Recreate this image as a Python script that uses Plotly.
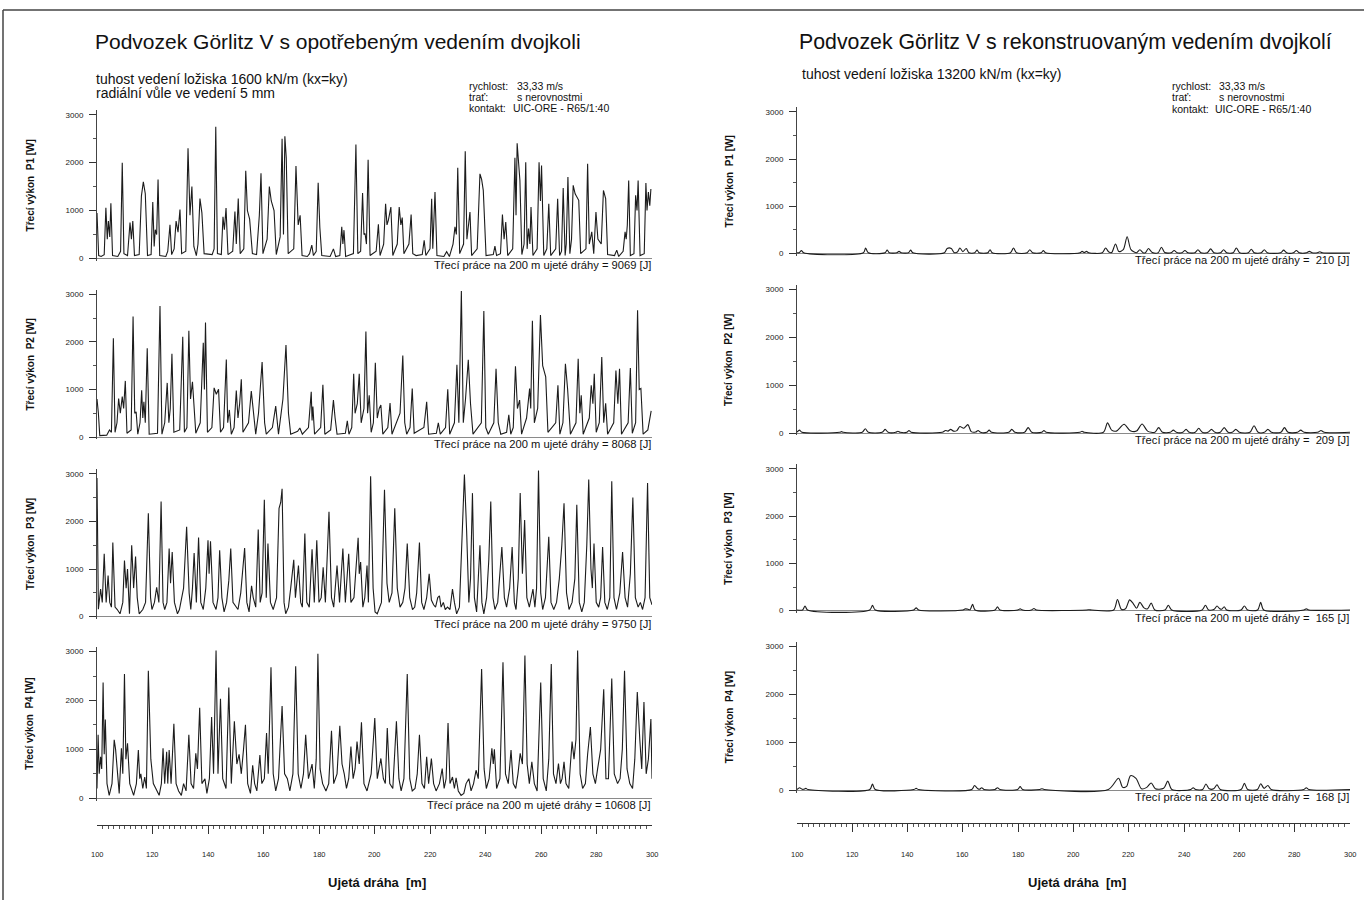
import plotly.graph_objects as go

W, H = 1364, 902
FONT = "Liberation Sans, Arial, sans-serif"

# ---------------- data ----------------
distance_ticks = [100, 120, 140, 160, 180, 200, 220, 240, 260, 280, 300]
power_ticks = [0, 1000, 2000, 3000]
wheelsets = ["P1", "P2", "P3", "P4"]
worn_work_J = [9069, 8068, 9750, 10608]
recon_work_J = [210, 209, 165, 168]

# worn guidance (left column): (distance m, friction power W)
worn_p1 = [(100.0, 950), (100.6, 60), (101.5, 40), (102.6, 80), (103.2, 1060), (103.7, 400), (104.1, 780), (104.6, 450),
           (105.0, 1150), (105.6, 60), (107.5, 40), (108.5, 150), (109.1, 2000), (109.7, 100), (111.0, 60), (111.9, 750),
           (112.4, 400), (112.9, 780), (113.5, 60), (115.2, 80), (116.0, 1300), (116.7, 1600), (117.4, 1350), (118.2, 60),
           (119.5, 80), (120.1, 1180), (120.6, 250), (121.0, 600), (121.5, 500), (122.0, 1650), (122.6, 60), (124.8, 40),
           (125.5, 150), (126.3, 700), (126.9, 80), (127.8, 200), (128.5, 780), (129.2, 550), (129.9, 1020), (130.5, 100),
           (132.0, 150), (132.8, 2300), (133.5, 900), (134.2, 1500), (134.9, 250), (135.8, 60), (136.4, 300), (137.1, 1250),
           (137.8, 950), (138.6, 100), (141.5, 80), (142.2, 200), (142.8, 2750), (143.4, 100), (144.8, 80), (145.4, 870),
           (145.9, 600), (146.5, 1050), (147.2, 80), (148.9, 150), (149.7, 980), (150.2, 300), (150.9, 1250), (151.6, 100),
           (152.9, 200), (153.6, 1830), (154.2, 1000), (155.0, 820), (156.0, 100), (157.5, 80), (158.5, 900), (159.1, 1780),
           (159.8, 100), (161.3, 400), (162.1, 1500), (162.8, 1200), (163.8, 1000), (164.6, 80), (166.0, 450), (166.7, 2500),
           (167.2, 500), (167.7, 2550), (168.2, 2100), (168.9, 100), (170.9, 200), (171.7, 1930), (172.5, 700), (173.2, 900),
           (173.9, 60), (175.8, 40), (176.6, 100), (177.4, 280), (178.0, 60), (179.0, 150), (179.7, 1580), (180.3, 650),
           (181.0, 60), (184.0, 40), (185.2, 200), (186.0, 40), (187.5, 60), (188.2, 660), (188.6, 300), (189.0, 590),
           (189.6, 40), (192.4, 100), (193.3, 2377), (194.0, 100), (195.0, 150), (195.7, 1365), (196.2, 500), (196.6, 520),
           (197.1, 300), (197.7, 2058), (198.4, 60), (200.6, 150), (201.4, 714), (202.0, 60), (203.3, 300), (204.0, 1143),
           (204.5, 700), (205.0, 800), (205.9, 1074), (206.6, 60), (208.2, 300), (208.9, 1074), (209.5, 700), (210.0, 852),
           (210.6, 100), (212.4, 300), (213.2, 915), (213.8, 100), (215.0, 60), (217.2, 80), (217.9, 380), (218.5, 60),
           (220.0, 200), (220.6, 1247), (221.0, 200), (221.8, 1386), (222.5, 60), (225.0, 40), (226.0, 140), (227.0, 40),
           (228.3, 300), (229.0, 660), (229.5, 500), (230.0, 1892), (230.7, 100), (232.1, 300), (232.7, 2238), (233.3, 400),
           (234.4, 970), (235.0, 60), (237.0, 200), (238.0, 1767), (238.6, 1650), (239.2, 1420), (240.2, 60), (242.8, 80),
           (243.4, 256), (244.0, 60), (245.4, 100), (246.1, 915), (246.7, 400), (247.3, 762), (248.0, 60), (249.8, 200),
           (250.6, 2100), (251.0, 900), (251.4, 2405), (252.4, 1628), (253.1, 80), (253.9, 300), (254.5, 2010), (255.0, 200),
           (255.5, 624), (256.0, 300), (256.4, 1074), (257.1, 60), (258.6, 200), (259.3, 2010), (259.8, 1200), (260.2, 1940),
           (261.0, 60), (262.1, 200), (262.8, 1143), (263.5, 60), (265.3, 200), (266.0, 1247), (266.7, 60), (267.4, 150),
           (268.0, 1470), (268.7, 60), (269.1, 300), (269.7, 1698), (270.4, 100), (271.0, 400), (271.6, 1525), (272.3, 1350),
           (273.6, 1213), (274.3, 100), (276.2, 200), (276.8, 1975), (277.4, 300), (278.3, 554), (279.0, 100), (279.8, 970),
           (280.5, 405), (281.7, 300), (282.5, 1420), (283.3, 1247), (284.0, 80), (286.5, 60), (287.3, 173), (288.0, 40),
           (289.6, 150), (290.3, 554), (290.7, 400), (291.1, 693), (291.6, 1628), (292.2, 60), (293.5, 100), (294.1, 1317),
           (294.6, 1000), (295.0, 1628), (295.7, 60), (297.2, 100), (297.8, 1573), (298.2, 1000), (298.7, 1386), (299.2, 1100),
           (299.6, 1450)]

worn_p2 = [(100.0, 800), (100.5, 500), (101.0, 30), (103.5, 40), (104.5, 150), (105.2, 100), (105.9, 2075), (106.5, 100),
           (107.2, 300), (107.8, 810), (108.4, 500), (109.1, 850), (109.6, 600), (110.2, 1180), (110.8, 80), (112.3, 150),
           (113.0, 2533), (113.6, 500), (114.1, 530), (114.7, 60), (115.5, 300), (116.1, 985), (116.5, 400), (116.9, 740),
           (117.4, 300), (118.1, 1867), (118.8, 60), (121.8, 80), (122.7, 2755), (123.4, 60), (124.4, 300), (125.3, 1138),
           (125.9, 300), (126.4, 600), (127.0, 1750), (127.7, 100), (129.8, 150), (130.9, 2110), (131.5, 100), (132.4, 200),
           (133.1, 2235), (133.7, 800), (134.4, 1160), (135.0, 600), (135.6, 80), (137.2, 300), (138.3, 1980), (138.7, 1000),
           (139.1, 2408), (139.8, 100), (141.4, 200), (142.2, 1034), (143.0, 900), (143.8, 1006), (144.5, 100), (145.6, 200),
           (146.6, 1630), (147.1, 300), (147.7, 570), (148.4, 60), (149.4, 200), (150.2, 980), (150.8, 400), (151.4, 700),
           (152.0, 1215), (152.6, 100), (154.6, 300), (155.6, 965), (156.6, 300), (157.2, 60), (158.2, 500), (158.9, 1020),
           (159.5, 1575), (160.4, 300), (161.0, 60), (163.2, 200), (164.4, 650), (165.4, 60), (167.0, 800), (168.1, 1936),
           (169.0, 500), (169.8, 60), (172.3, 120), (173.1, 190), (174.0, 60), (176.2, 200), (177.2, 950), (177.5, 350),
           (177.8, 640), (178.4, 60), (180.6, 200), (181.4, 1100), (182.1, 60), (184.2, 150), (185.2, 777), (185.8, 400),
           (186.5, 60), (189.5, 80), (190.2, 340), (190.8, 60), (191.8, 200), (192.5, 1330), (193.0, 500), (193.8, 700),
           (194.5, 1330), (195.2, 300), (196.2, 600), (196.9, 2220), (197.5, 500), (198.1, 880), (198.8, 100), (199.6, 300),
           (200.3, 1560), (201.0, 400), (201.7, 600), (202.3, 673), (203.0, 60), (204.8, 200), (205.6, 715), (206.3, 60),
           (209.2, 500), (210.2, 1714), (210.9, 300), (211.6, 60), (212.8, 200), (213.6, 1020), (214.3, 80), (217.8, 200),
           (218.8, 740), (219.5, 60), (222.3, 80), (223.0, 300), (223.7, 60), (225.6, 200), (226.4, 1006), (227.1, 60),
           (228.8, 300), (229.7, 1520), (230.4, 300), (231.3, 3067), (232.0, 300), (232.8, 800), (233.8, 1624), (234.6, 700),
           (235.5, 60), (238.5, 300), (239.4, 2650), (240.1, 200), (241.0, 60), (243.0, 300), (243.8, 1436), (244.6, 300),
           (245.5, 60), (247.6, 100), (248.4, 465), (249.1, 60), (250.0, 200), (250.8, 1490), (251.5, 600), (252.3, 777),
           (253.0, 60), (254.8, 400), (255.9, 1020), (256.3, 600), (256.9, 2443), (257.6, 300), (258.8, 600), (259.8, 2567),
           (260.6, 1500), (261.7, 1263), (262.5, 100), (265.3, 300), (266.1, 1090), (266.8, 60), (267.9, 300), (268.8, 1540),
           (269.6, 1000), (270.6, 60), (272.6, 300), (273.4, 1645), (274.0, 500), (274.5, 880), (275.2, 60), (277.4, 400),
           (278.1, 1090), (278.7, 700), (279.2, 1330), (279.9, 100), (281.0, 300), (281.9, 1680), (282.6, 300), (283.3, 708),
           (284.0, 60), (286.2, 300), (287.0, 1400), (287.7, 700), (288.3, 1436), (289.0, 60), (291.4, 300), (292.2, 1450),
           (292.9, 80), (294.1, 300), (294.8, 2665), (295.4, 1000), (296.0, 1020), (296.8, 60), (298.5, 150), (299.7, 550)]

worn_p3 = [(100.0, 2915), (100.5, 155), (101.3, 580), (101.9, 300), (102.6, 1323), (103.3, 300), (104.0, 863), (104.6, 300),
           (105.2, 200), (105.7, 1556), (106.5, 200), (107.3, 150), (108.3, 60), (109.3, 300), (109.9, 1181), (110.5, 600),
           (111.0, 1000), (111.7, 60), (112.5, 1500), (113.2, 600), (113.9, 1266), (114.5, 400), (115.2, 60), (116.5, 150),
           (117.5, 300), (118.5, 2172), (119.3, 400), (119.8, 150), (120.7, 300), (121.5, 615), (122.3, 300), (123.1, 2420),
           (123.8, 300), (124.4, 150), (125.2, 300), (126.0, 1430), (126.5, 700), (127.1, 1358), (127.9, 300), (129.0, 60),
           (129.7, 150), (131.2, 600), (132.3, 1889), (133.2, 500), (133.8, 150), (134.4, 600), (135.0, 1337), (135.8, 300),
           (136.6, 1663), (137.4, 300), (138.3, 150), (139.2, 600), (140.0, 1606), (140.4, 900), (140.9, 1585), (141.8, 300),
           (142.9, 150), (143.6, 400), (144.2, 1394), (145.0, 400), (145.8, 100), (146.7, 300), (147.5, 757), (148.2, 1430),
           (149.0, 300), (150.8, 150), (151.8, 500), (153.2, 1443), (154.0, 300), (154.8, 100), (155.7, 650), (156.3, 400),
           (157.2, 200), (158.1, 1832), (158.8, 300), (159.5, 500), (160.3, 2455), (161.0, 400), (161.6, 1535), (162.5, 300),
           (163.5, 150), (164.7, 400), (165.6, 2278), (166.2, 2400), (166.7, 2689), (167.4, 300), (168.0, 60), (169.0, 200),
           (169.8, 600), (170.9, 1196), (171.5, 400), (172.6, 1075), (173.4, 300), (174.0, 200), (174.9, 1748), (175.6, 300),
           (176.5, 200), (177.5, 1415), (178.3, 300), (179.2, 1606), (180.0, 300), (180.8, 400), (181.5, 1040), (182.3, 300),
           (183.6, 2207), (184.5, 400), (185.3, 200), (186.5, 1075), (187.4, 300), (188.6, 1430), (189.5, 300), (190.7, 1323),
           (191.5, 300), (192.6, 400), (194.1, 1656), (194.5, 900), (195.0, 1146), (195.8, 200), (196.5, 400), (197.3, 1075),
           (197.8, 300), (198.6, 2950), (199.5, 600), (200.2, 100), (201.0, 60), (202.5, 300), (203.6, 2667), (204.5, 700),
           (205.3, 300), (206.3, 500), (207.3, 2278), (208.2, 600), (209.2, 200), (210.2, 300), (211.0, 600), (211.8, 1535),
           (212.7, 400), (213.7, 150), (214.5, 200), (215.2, 500), (216.2, 1556), (217.0, 300), (217.8, 150), (218.8, 400),
           (219.7, 899), (220.5, 350), (221.3, 250), (222.0, 200), (222.8, 400), (223.4, 439), (224.0, 200), (224.8, 300),
           (225.5, 150), (226.3, 200), (227.2, 150), (228.1, 580), (228.8, 300), (229.6, 60), (230.6, 200), (231.4, 1500),
           (232.4, 2985), (233.2, 1800), (234.0, 300), (234.6, 800), (235.3, 2596), (236.0, 400), (236.8, 100), (237.4, 800),
           (238.0, 1500), (238.7, 300), (239.4, 60), (240.4, 400), (241.2, 1200), (241.9, 2420), (242.7, 400), (243.4, 150),
           (244.4, 300), (245.9, 1465), (246.8, 400), (247.6, 200), (248.7, 600), (249.6, 1465), (250.4, 300), (251.0, 150),
           (251.8, 800), (252.5, 2596), (253.3, 900), (254.1, 2031), (254.9, 400), (255.8, 200), (257.1, 580), (257.8, 200),
           (258.4, 600), (259.1, 3070), (259.9, 500), (260.6, 150), (261.6, 400), (262.8, 1677), (263.6, 300), (264.6, 150),
           (265.6, 300), (266.6, 800), (267.5, 1500), (268.3, 2384), (269.2, 500), (270.1, 150), (271.2, 300), (272.2, 800),
           (272.9, 2349), (273.8, 300), (274.7, 100), (275.6, 300), (276.5, 1500), (277.2, 2880), (278.0, 1000), (278.5, 600),
           (279.1, 1535), (279.9, 300), (280.8, 200), (281.5, 400), (282.2, 1465), (283.0, 300), (283.9, 150), (284.8, 400),
           (285.5, 2844), (286.3, 400), (287.2, 150), (288.4, 500), (289.4, 1358), (290.3, 400), (291.2, 200), (292.2, 900),
           (293.1, 2505), (294.0, 400), (295.0, 200), (295.8, 300), (296.6, 150), (297.5, 400), (298.4, 2809), (299.2, 400),
           (300.0, 250)]

worn_p4 = [(100.0, 200), (100.4, 1297), (100.8, 500), (101.3, 850), (101.7, 600), (102.2, 2367), (102.6, 900), (103.0, 1608),
           (103.6, 300), (104.4, 60), (105.4, 300), (106.2, 1194), (106.7, 1000), (107.3, 500), (108.0, 100), (108.8, 1021),
           (109.3, 500), (109.9, 2539), (110.4, 800), (111.0, 1125), (111.8, 300), (113.2, 60), (114.2, 300), (114.9, 987),
           (115.4, 400), (115.8, 500), (116.5, 200), (117.2, 435), (117.8, 200), (118.5, 2608), (119.4, 800), (120.3, 300),
           (122.4, 60), (123.2, 300), (123.8, 1021), (124.4, 300), (125.1, 950), (125.5, 300), (126.0, 987), (126.7, 300),
           (127.7, 1525), (128.5, 300), (129.4, 150), (130.4, 60), (131.2, 300), (132.1, 150), (133.1, 1297), (133.9, 300),
           (134.8, 200), (135.6, 918), (136.2, 600), (137.0, 1849), (137.8, 300), (138.9, 400), (139.6, 100), (140.5, 400),
           (141.3, 1663), (142.0, 500), (142.9, 3022), (143.6, 500), (144.5, 2036), (145.3, 400), (146.5, 200), (147.5, 2263),
           (148.4, 300), (149.5, 1573), (150.4, 700), (151.2, 900), (152.0, 500), (152.8, 1000), (153.5, 1504), (154.3, 300),
           (155.3, 100), (156.1, 676), (156.8, 300), (157.6, 150), (158.7, 883), (159.4, 300), (160.3, 400), (161.1, 1332),
           (161.7, 500), (162.7, 2677), (163.5, 500), (164.4, 150), (165.4, 400), (166.7, 1884), (167.6, 500), (168.6, 400),
           (169.5, 150), (170.6, 500), (171.6, 2698), (172.5, 500), (173.5, 200), (174.4, 500), (175.2, 1297), (176.2, 400),
           (177.5, 700), (178.3, 200), (179.0, 800), (179.6, 2953), (180.4, 600), (181.3, 300), (182.5, 150), (183.5, 300),
           (184.5, 1380), (185.3, 300), (186.5, 500), (187.5, 1484), (188.3, 700), (189.1, 500), (189.9, 200), (190.7, 400),
           (191.5, 1056), (192.3, 400), (193.0, 600), (193.7, 1159), (194.5, 700), (195.3, 1553), (196.2, 300), (197.3, 150),
           (198.8, 500), (200.1, 1642), (201.0, 400), (202.3, 814), (203.2, 400), (203.9, 300), (204.6, 1435), (205.5, 300),
           (206.6, 200), (207.9, 1573), (208.8, 400), (209.6, 150), (210.6, 400), (211.8, 2539), (212.7, 400), (213.6, 150),
           (214.6, 200), (215.4, 500), (216.2, 1297), (217.1, 300), (218.0, 200), (218.8, 849), (219.5, 300), (220.5, 814),
           (221.3, 300), (222.2, 150), (223.4, 300), (224.4, 607), (225.1, 200), (225.8, 400), (226.5, 1539), (227.2, 300),
           (228.1, 435), (228.8, 200), (229.4, 420), (230.2, 150), (231.2, 60), (232.2, 100), (233.0, 300), (234.0, 400),
           (234.8, 150), (235.7, 300), (236.6, 573), (237.4, 400), (238.6, 2643), (239.5, 600), (240.3, 200), (241.3, 400),
           (242.3, 1021), (242.8, 700), (243.2, 1000), (244.0, 200), (245.2, 400), (246.3, 2781), (247.2, 500), (248.2, 300),
           (249.2, 987), (250.0, 300), (250.9, 200), (251.7, 500), (252.5, 918), (253.3, 700), (254.2, 2919), (255.0, 700),
           (255.8, 300), (256.7, 745), (257.6, 300), (258.6, 150), (259.9, 2367), (260.8, 400), (261.9, 150), (262.8, 800),
           (263.7, 2746), (264.5, 500), (265.4, 300), (266.3, 711), (267.0, 300), (267.6, 400), (268.3, 745), (269.0, 300),
           (270.0, 200), (270.6, 700), (271.2, 1159), (271.9, 800), (272.6, 1200), (273.2, 3022), (274.1, 500), (275.0, 200),
           (276.0, 300), (276.8, 900), (277.8, 1456), (278.7, 500), (279.6, 300), (280.4, 600), (281.5, 1000), (282.6, 2229),
           (283.4, 400), (284.3, 400), (284.9, 1400), (285.5, 2450), (286.4, 500), (287.6, 300), (288.5, 400), (289.3, 1000),
           (290.1, 2608), (291.0, 600), (292.0, 300), (293.0, 200), (293.8, 800), (294.7, 2174), (295.6, 1200), (296.3, 600),
           (297.1, 1967), (297.9, 500), (298.7, 800), (299.6, 1622), (300.0, 400)]

# reconstructed guidance (right column)
recon_p1 = [(100.0, 15), (100.8, 15), (101.6, 62), (102.4, 15), (124.0, 15), (124.8, 115), (125.8, 15), (131.8, 15),
            (132.6, 70), (133.4, 15), (136.1, 15), (136.9, 44), (137.7, 15), (140.3, 15), (141.1, 70), (141.9, 15),
            (153.3, 15), (154.3, 106), (155.8, 106), (156.8, 20), (158.0, 30), (158.9, 115), (160.0, 40), (161.2, 106),
            (162.2, 15), (164.3, 15), (165.1, 70), (165.9, 15), (169.0, 15), (169.8, 80), (170.6, 15), (177.2, 15),
            (178.3, 115), (179.4, 15), (183.2, 15), (184.2, 80), (185.2, 15), (188.3, 15), (189.1, 62), (189.9, 15),
            (202.4, 15), (203.1, 44), (203.9, 20), (204.7, 44), (205.5, 15), (210.4, 15), (211.6, 115), (212.8, 30),
            (213.8, 20), (215.2, 200), (216.4, 40), (218.0, 80), (219.4, 354), (220.8, 80), (222.8, 15), (224.0, 80),
            (225.2, 15), (226.0, 15), (227.1, 106), (228.5, 20), (230.6, 15), (231.8, 133), (233.0, 20), (235.3, 15),
            (236.4, 62), (237.5, 15), (239.2, 15), (240.3, 62), (241.4, 15), (243.9, 15), (245.0, 80), (246.1, 15),
            (248.4, 15), (249.6, 97), (250.8, 15), (253.2, 15), (254.3, 80), (255.4, 15), (257.7, 15), (258.9, 115),
            (260.1, 15), (263.2, 15), (264.3, 88), (265.4, 15), (267.9, 15), (269.0, 80), (270.1, 15), (274.9, 15),
            (276.0, 70), (277.1, 15), (279.5, 15), (280.6, 62), (281.7, 15), (284.3, 15), (285.3, 44), (286.3, 15),
            (288.2, 15), (289.1, 35), (290.0, 15), (300.0, 10)]

recon_p2 = [(100.0, 20), (100.9, 60), (101.8, 15), (115.4, 15), (116.1, 30), (116.8, 15), (123.6, 15), (124.7, 90),
            (125.8, 15), (130.8, 15), (131.9, 76), (133.0, 15), (135.7, 15), (136.5, 38), (137.3, 15), (139.7, 15),
            (140.5, 53), (141.3, 15), (152.5, 15), (153.7, 53), (154.6, 40), (155.6, 76), (156.6, 40), (157.8, 50),
            (158.9, 137), (160.3, 100), (161.8, 175), (163.0, 30), (164.6, 20), (165.5, 53), (166.4, 15), (168.6, 15),
            (169.5, 60), (170.4, 15), (176.6, 15), (177.7, 76), (178.8, 15), (182.3, 15), (183.6, 114), (184.9, 15),
            (188.5, 15), (189.3, 53), (190.1, 15), (202.3, 15), (203.1, 38), (203.9, 15), (210.8, 15), (212.3, 213),
            (213.8, 60), (215.5, 40), (218.3, 182), (220.5, 50), (222.8, 40), (224.8, 190), (226.8, 40), (229.4, 15),
            (230.8, 114), (232.2, 15), (235.0, 15), (236.1, 60), (237.2, 15), (239.5, 15), (240.7, 76), (241.9, 15),
            (244.0, 15), (245.3, 99), (246.6, 15), (248.6, 15), (249.9, 76), (251.2, 15), (253.1, 15), (254.5, 114),
            (255.9, 15), (257.4, 15), (258.7, 76), (260.0, 15), (263.8, 15), (265.3, 152), (266.8, 15), (269.0, 15),
            (270.3, 76), (271.6, 15), (275.0, 15), (276.3, 114), (277.6, 15), (281.0, 15), (282.2, 60), (283.4, 15),
            (288.3, 15), (289.5, 53), (290.7, 15), (300.0, 15)]

recon_p3 = [(100.0, 15), (102.0, 15), (102.9, 100), (103.8, 15), (126.3, 15), (127.3, 114), (128.3, 15), (142.2, 15),
            (143.1, 60), (144.0, 15), (160.0, 15), (160.9, 38), (161.8, 30), (162.6, 20), (163.5, 137), (164.4, 15),
            (171.6, 15), (172.5, 84), (173.4, 15), (179.8, 15), (180.7, 38), (181.6, 15), (184.8, 15), (185.7, 46),
            (186.6, 15), (204.8, 15), (205.7, 20), (206.6, 15), (214.5, 15), (215.9, 236), (217.3, 30), (218.8, 40),
            (220.3, 228), (221.6, 150), (222.8, 50), (224.0, 175), (225.5, 60), (226.8, 40), (228.1, 160), (229.4, 15),
            (233.1, 15), (234.3, 114), (235.5, 15), (246.5, 15), (247.7, 114), (248.9, 15), (250.9, 30), (251.9, 100),
            (252.9, 40), (253.6, 30), (254.5, 84), (255.4, 15), (260.6, 15), (261.8, 100), (263.0, 15), (266.6, 15),
            (267.7, 175), (268.8, 15), (283.3, 15), (284.2, 38), (285.1, 15), (300.0, 15)]

recon_p4 = [(100.0, 15), (100.9, 53), (101.9, 20), (102.4, 20), (103.2, 38), (104.0, 15), (126.3, 15), (127.3, 130),
            (128.3, 15), (142.2, 15), (143.1, 38), (144.0, 15), (163.2, 15), (164.2, 99), (165.4, 30), (166.0, 20),
            (166.8, 53), (167.6, 15), (171.6, 15), (172.5, 53), (173.4, 15), (179.8, 15), (180.7, 76), (181.6, 15),
            (187.8, 15), (188.6, 30), (189.4, 15), (212.6, 15), (216.3, 250), (217.8, 60), (219.2, 80), (220.6, 304),
            (222.6, 250), (224.6, 30), (226.5, 60), (228.1, 152), (229.6, 30), (232.6, 40), (234.1, 190), (235.6, 15),
            (242.4, 15), (243.3, 53), (244.2, 15), (246.7, 15), (247.9, 130), (249.1, 30), (250.7, 30), (251.9, 114),
            (253.1, 15), (260.6, 15), (261.8, 144), (263.0, 15), (266.5, 15), (267.7, 137), (268.9, 40), (270.3, 99),
            (271.5, 15), (283.3, 15), (284.2, 53), (285.1, 15), (300.0, 15)]

worn_series = [worn_p1, worn_p2, worn_p3, worn_p4]
recon_series = [recon_p1, recon_p2, recon_p3, recon_p4]

# ---------------- layout geometry (pixels) ----------------
def fx(px):
    return px / W


def fy(py):
    return 1 - py / H


LEFT_X = (97, 652)
RIGHT_X = (797, 1350)
left_rows = [(110.2, 261.4), (290.2, 440.4), (470.2, 620.4), (648.1, 802.5)]
right_rows = [(107.3, 256.4), (285.2, 436.4), (465.3, 614.4), (643.2, 794.4)]
left_zero = [259, 438, 618, 800]
right_zero = [254, 434, 612, 792]
YRANGE = [-50, 3100]
LINE = "#1c1c1c"

fig = go.Figure()
layout = dict(
    width=W, height=H, margin=dict(l=0, r=0, t=0, b=0),
    paper_bgcolor="white", plot_bgcolor="white", showlegend=False,
    font=dict(family=FONT, color="#111"),
)
annotations = []


def yaxis_def(top, bottom):
    return dict(
        domain=[fy(bottom), fy(top)], range=YRANGE, tickvals=power_ticks,
        showgrid=False, zeroline=True, zerolinecolor="#8a8a8a", zerolinewidth=1,
        showline=True, linecolor="#444", linewidth=1,
        ticks="outside", ticklen=7, tickcolor="#333", tickwidth=1,
        minor=dict(dtick=500, ticks="outside", ticklen=3, tickcolor="#555"),
        tickfont=dict(size=8, family=FONT, color="#222"), ticklabelstandoff=4,
        fixedrange=True,
    )


idx = 0
for col, (xdom, rows, zeros, series, works, ytitle_x) in enumerate([
        (LEFT_X, left_rows, left_zero, worn_series, worn_work_J, 30),
        (RIGHT_X, right_rows, right_zero, recon_series, recon_work_J, 729)]):
    for r in range(4):
        idx += 1
        xa = "xaxis" if idx == 1 else f"xaxis{idx}"
        ya = "yaxis" if idx == 1 else f"yaxis{idx}"
        xs = "x" if idx == 1 else f"x{idx}"
        ys = "y" if idx == 1 else f"y{idx}"
        top, bottom = rows[r]
        layout[xa] = dict(domain=[fx(xdom[0]), fx(xdom[1])], range=[100, 300], anchor=ys,
                          visible=False, fixedrange=True)
        layout[ya] = yaxis_def(top, bottom)
        layout[ya]["anchor"] = xs
        pts = series[r]
        fig.add_trace(go.Scatter(
            x=[p[0] for p in pts], y=[p[1] for p in pts], mode="lines",
            line=dict(color=LINE, width=1.1, shape="linear" if col == 0 else "spline", smoothing=0.8),
            xaxis=xs, yaxis=ys, hoverinfo="skip"))
        annotations.append(dict(
            x=fx(ytitle_x), y=fy((top + bottom) / 2), xref="paper", yref="paper",
            text=f"<b>Třecí výkon\u00a0 {wheelsets[r]} [W]</b>", textangle=-90, showarrow=False,
            font=dict(size=10, family=FONT, color="#111"), xanchor="center", yanchor="middle"))
        sep = "=" if col == 0 else "=\u00a0"
        annotations.append(dict(
            x=fx(xdom[1] + 1), y=fy(zeros[r] + 7), xref="paper", yref="paper",
            text=f"Třecí práce na 200 m ujeté dráhy {sep} {works[r]} [J]", showarrow=False,
            font=dict(size=11.2, family=FONT, color="#111"), xanchor="right", yanchor="middle"))

# distance rulers at the bottom
for k, (xdom, line_py) in enumerate([(LEFT_X, 828), (RIGHT_X, 826)]):
    n = 9 + k
    layout[f"yaxis{n}"] = dict(domain=[fy(line_py + 2), fy(line_py)], visible=False,
                               anchor=f"x{n}", range=[0, 1], fixedrange=True)
    layout[f"xaxis{n}"] = dict(
        domain=[fx(xdom[0]), fx(xdom[1])], range=[100, 300], anchor=f"y{n}", side="top",
        tickvals=distance_ticks, showline=True, linecolor="#333", linewidth=1,
        ticks="inside", ticklen=8, tickcolor="#333", showgrid=False, zeroline=False,
        minor=dict(dtick=2, ticks="inside", ticklen=3, tickcolor="#555"),
        showticklabels=False, fixedrange=True)
    fig.add_trace(go.Scatter(x=[], y=[], xaxis=f"x{n}", yaxis=f"y{n}", mode="lines"))
    for t in distance_ticks:
        px = xdom[0] + (t - 100) / 200 * (xdom[1] - xdom[0])
        annotations.append(dict(x=fx(px), y=fy(856), xref="paper", yref="paper", text=str(t),
                                showarrow=False, font=dict(size=7.5, family=FONT, color="#222"),
                                xanchor="center", yanchor="middle"))
    annotations.append(dict(x=fx((xdom[0] + xdom[1]) / 2 + 3), y=fy(884), xref="paper", yref="paper",
                            text="<b>Ujetá dráha\u00a0 [m]</b>", showarrow=False,
                            font=dict(size=13, family=FONT, color="#111"),
                            xanchor="center", yanchor="middle"))


def txt(px, py, s, size, anchor="left"):
    annotations.append(dict(x=fx(px), y=fy(py), xref="paper", yref="paper", text=s, showarrow=False,
                            font=dict(size=size, family=FONT, color="#111"),
                            xanchor=anchor, yanchor="middle"))


txt(93, 42, "Podvozek Görlitz V s opotřebeným vedením dvojkoli", 21)
txt(797, 42, "Podvozek Görlitz V s rekonstruovaným vedením dvojkolí", 21.3)
txt(94, 79, "tuhost vedení ložiska 1600 kN/m (kx=ky)", 14)
txt(94, 93, "radiální vůle ve vedení 5 mm", 14)
txt(800, 74, "tuhost vedení ložiska 13200 kN/m (kx=ky)", 14)
for (lx, vx, rows_y) in [(467, 515, [86, 97, 108]), (1170, 1217, [86, 97, 109])]:
    txt(lx, rows_y[0], "rychlost:", 10.5)
    txt(vx, rows_y[0], "33,33 m/s", 10.5)
    txt(lx, rows_y[1], "trať:", 10.5)
    txt(vx, rows_y[1], "s nerovnostmi", 10.5)
    txt(lx, rows_y[2], "kontakt:", 10.5)
    txt(vx - 4, rows_y[2], "UIC-ORE - R65/1:40", 10.5)

layout["annotations"] = annotations
layout["shapes"] = [
    dict(type="line", xref="paper", yref="paper", x0=fx(3), x1=1, y0=fy(10), y1=fy(10),
         line=dict(color="#444", width=1.5)),
    dict(type="line", xref="paper", yref="paper", x0=fx(3), x1=fx(3), y0=fy(10), y1=0,
         line=dict(color="#444", width=1.5)),
]
fig.update_layout(**layout)
fig.write_html("out.html", config={"displayModeBar": False},
               post_script="document.body.style.margin='0px';document.body.style.overflow='hidden';")
